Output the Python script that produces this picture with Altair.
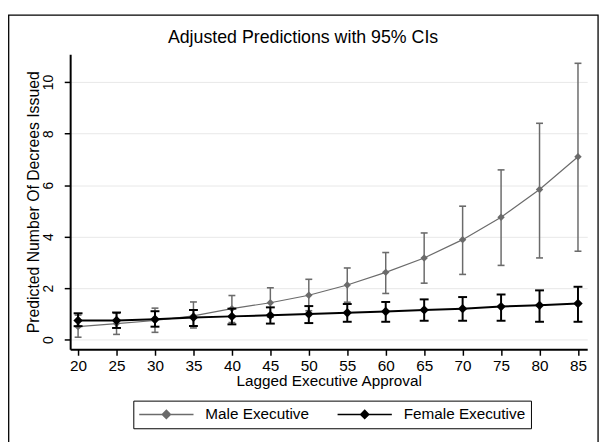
import altair as alt
import pandas as pd

# ---- data ----
approval = [20, 25, 30, 35, 40, 45, 50, 55, 60, 65, 70, 75, 80, 85]

male_est = [0.50, 0.62, 0.74, 0.92, 1.20, 1.43, 1.72, 2.12, 2.61, 3.17, 3.88, 4.75, 5.83, 7.10]
male_lo = [0.09, 0.20, 0.28, 0.45, 0.66, 0.87, 1.12, 1.45, 1.79, 2.19, 2.53, 2.88, 3.17, 3.43]
male_hi = [0.95, 1.02, 1.22, 1.46, 1.71, 2.01, 2.34, 2.78, 3.38, 4.14, 5.18, 6.59, 8.40, 10.73]

female_est = [0.74, 0.74, 0.79, 0.86, 0.90, 0.94, 0.99, 1.04, 1.09, 1.15, 1.20, 1.28, 1.33, 1.40]
female_lo = [0.52, 0.45, 0.50, 0.53, 0.59, 0.62, 0.64, 0.69, 0.69, 0.73, 0.73, 0.73, 0.69, 0.69]
female_hi = [1.02, 1.05, 1.10, 1.15, 1.20, 1.25, 1.30, 1.38, 1.46, 1.56, 1.65, 1.75, 1.91, 2.05]

series_names = ["Male Executive", "Female Executive"]
series_colors = ["#6b6b6b", "#000000"]
y_ticks = [0, 2, 4, 6, 8, 10]

rows = []
for name, est, lo, hi in [
    (series_names[0], male_est, male_lo, male_hi),
    (series_names[1], female_est, female_lo, female_hi),
]:
    for a, e, l, h in zip(approval, est, lo, hi):
        rows.append({"approval": a, "series": name, "est": e, "lo": l, "hi": h})
df = pd.DataFrame(rows)

FONT = "Liberation Sans"

xscale = alt.Scale(domain=[18.97, 86.2], nice=False, zero=False)
yscale = alt.Scale(domain=[-0.38, 11.08], nice=False, zero=False)

x_axis = alt.Axis(
    values=approval, title="Lagged Executive Approval", grid=False,
    labelFontSize=15.5, labelPadding=3, titleFontSize=15.5, titlePadding=0,
    labelFlush=False, labelOverlap=False,
)
y_axis = alt.Axis(
    values=y_ticks, title="Predicted Number Of Decrees Issued", grid=True,
    labelAngle=270, labelAlign="center", labelBaseline="alphabetic",
    labelFontSize=14, labelPadding=12, titleFontSize=16, titlePadding=0,
)

color = alt.Color(
    "series:N",
    scale=alt.Scale(domain=series_names, range=series_colors),
    legend=alt.Legend(
        title=None, orient="none", legendX=64, legendY=351, direction="horizontal",
        columns=2, symbolType="M-1,0L1,0M0,-0.15L0.15,0L0,0.15L-0.15,0Z",
        symbolSize=3025, symbolStrokeWidth=1.5, symbolOpacity=1,
        clipHeight=18, labelFontSize=15.5, labelFont=FONT, labelColor="black",
        labelOffset=11, columnPadding=27, padding=5, strokeColor="black",
        fillColor="white", labelLimit=300,
    ),
)

X = alt.X("approval:Q", scale=xscale, axis=x_axis)


def Y(field):
    return alt.Y(field, type="quantitative", scale=yscale, axis=y_axis)


def series_layers(name, line_w, rule_w, cap_w, cap_t, pt_size):
    b = alt.Chart(df).transform_filter(alt.datum.series == name)
    ci = b.mark_rule(strokeWidth=rule_w).encode(x=X, y=Y("lo"), y2="hi", color=color)
    lo = b.mark_tick(orient="horizontal", thickness=cap_t, size=cap_w, opacity=1).encode(
        x=X, y=Y("lo"), color=color)
    hi = b.mark_tick(orient="horizontal", thickness=cap_t, size=cap_w, opacity=1).encode(
        x=X, y=Y("hi"), color=color)
    ln = b.mark_line(strokeWidth=line_w).encode(x=X, y=Y("est"), color=color)
    pt = b.mark_point(shape="diamond", filled=True, opacity=1, size=pt_size).encode(
        x=X, y=Y("est"), color=color)
    return [ci, lo, hi, ln, pt]


border = alt.Chart(pd.DataFrame({"k": [0]})).mark_rect(
    fillOpacity=0, stroke="black", strokeWidth=1.3
).encode(
    x=alt.value(-62.3), x2=alt.value(535), y=alt.value(-39.7), y2=alt.value(420)
)

layers = [border]
layers += series_layers(series_names[0], 1.2, 1.5, 7, 1.6, 56)
layers += series_layers(series_names[1], 2.0, 2.0, 9, 2.0, 90)

chart = alt.layer(*layers).properties(
    width=524, height=299,
    autosize=alt.AutoSizeParams(type="none"),
    padding={"left": 63, "top": 44, "right": 16, "bottom": 91},
    title=alt.TitleParams(
        "Adjusted Predictions with 95% CIs", anchor="middle", dx=-26,
        fontSize=18, fontWeight="normal", font=FONT, color="black", offset=-47,
        baseline="alphabetic",
    ),
).configure(
    font=FONT, background="white",
).configure_view(
    stroke=None,
).configure_axis(
    domainColor="black", domainWidth=2, tickColor="black", tickWidth=1.5, tickSize=6,
    labelColor="black", titleColor="black", titleFontWeight="normal",
    labelFont=FONT, titleFont=FONT, gridColor="#e8e8e8", gridWidth=1,
)

chart.save("out.html", embed_options={"renderer": "svg", "actions": False})
